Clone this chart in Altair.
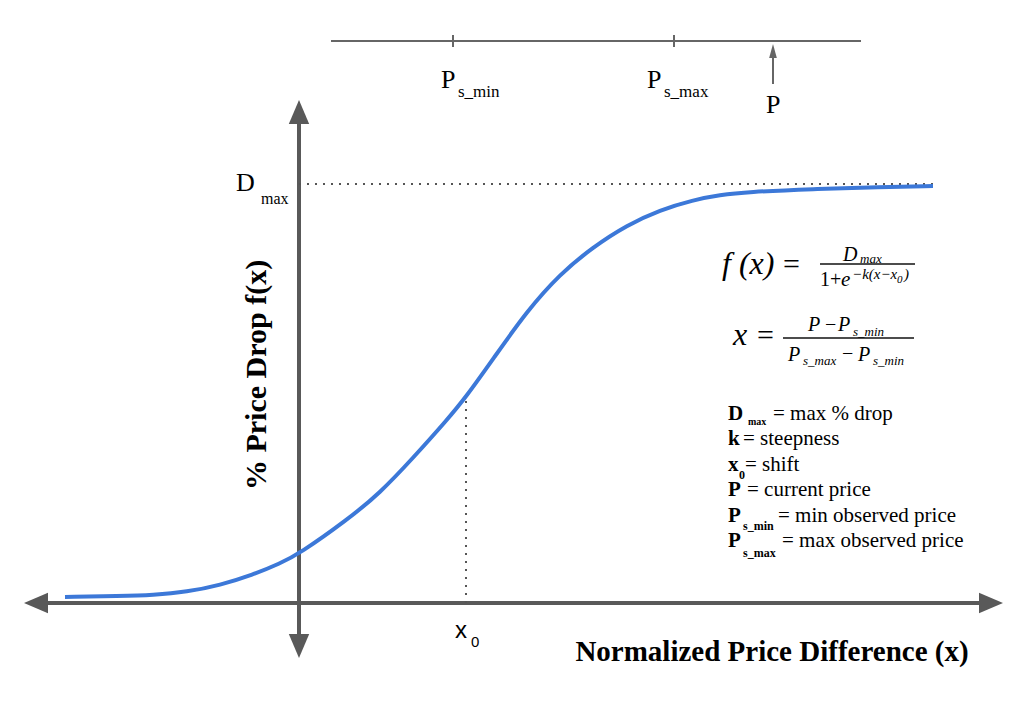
import altair as alt
import pandas as pd

# ---------------- data (x: normalized price difference, vertical axis at 0, x0 = 1;
#                         y: % price drop, Dmax = 100) ----------------
curve_x = [-1.4012, -1.0719, -0.8743, -0.6707, -0.4731, -0.2754, -0.1138, 0.0, 0.2874, 0.4850,
           0.6826, 0.8862, 1.0, 1.1617, 1.3653, 1.5629, 1.7605, 1.9641, 2.1617, 2.3593,
           2.5210, 2.6826, 3.0778, 3.4790, 3.7964]
curve_y = [1.43, 1.67, 1.91, 2.63, 4.25, 6.73, 9.43, 11.7, 19.81, 26.25,
           34.61, 43.68, 49.16, 58.23, 69.69, 78.52, 84.96, 90.21, 93.79, 96.18,
           97.37, 98.09, 98.81, 99.28, 99.52]

D_MAX = 100
X0 = 1.0
X_AXIS_RANGE = [-1.5749, 4.1437]
Y_AXIS_RANGE = [-10.26, 117.18]

# top price scale
price_line_x = [0.1916, 3.3653]
price_line_y = 134.13
price_ticks_x = [0.9222, 2.2455]
price_tick_y = [132.70, 135.56]
price_now_x = 2.8383
price_arrow_y = [123.87, 131.5]
price_arrow_head_y = 131.74

X_DOM = [-1.7904, 4.3413]
Y_DOM = [-24.105, 143.914]

AXIS_GRAY = "#595959"
BLUE = "#3c78d8"
SERIF = "Liberation Serif, Times New Roman, Times, serif"
SANS = "Liberation Sans, Arial, sans-serif"


def xs(field):
    return alt.X(field, type="quantitative",
                 scale=alt.Scale(domain=X_DOM, nice=False, zero=False), axis=None)


def ys(field):
    return alt.Y(field, type="quantitative",
                 scale=alt.Scale(domain=Y_DOM, nice=False, zero=False), axis=None)


layers = []

# axes lines
axes_df = pd.DataFrame({
    "x": [X_AXIS_RANGE[0], 0.0],
    "x2": [X_AXIS_RANGE[1], 0.0],
    "y": [0.0, Y_AXIS_RANGE[0]],
    "y2": [0.0, Y_AXIS_RANGE[1]],
})
layers.append(alt.Chart(axes_df).mark_rule(color=AXIS_GRAY, strokeWidth=4).encode(
    x=xs("x"), x2="x2", y=ys("y"), y2="y2"))

# arrow heads of main axes
tri_up = "M0,-1L0.85,1L-0.85,1Z"
tri_down = "M0,1L0.85,-1L-0.85,-1Z"
tri_left = "M-1,0L1,-0.85L1,0.85Z"
tri_right = "M1,0L-1,-0.85L-1,0.85Z"
for shape, hx, hy in [(tri_up, 0.0, Y_AXIS_RANGE[1]), (tri_down, 0.0, Y_AXIS_RANGE[0]),
                      (tri_left, X_AXIS_RANGE[0], 0.0), (tri_right, X_AXIS_RANGE[1], 0.0)]:
    layers.append(alt.Chart(pd.DataFrame({"x": [hx], "y": [hy]})).mark_point(
        shape=shape, filled=True, size=576, color=AXIS_GRAY, opacity=1, strokeWidth=0
    ).encode(x=xs("x"), y=ys("y")))

# dotted guides
dots_df = pd.DataFrame({
    "x": [0.0, X0], "x2": [curve_x[-1], X0],
    "y": [D_MAX, 0.0], "y2": [D_MAX, curve_y[curve_x.index(X0)]],
})
layers.append(alt.Chart(dots_df).mark_rule(
    color="#555555", strokeWidth=2, strokeDash=[2, 6]).encode(
    x=xs("x"), x2="x2", y=ys("y"), y2="y2"))

# curve
curve_df = pd.DataFrame({"x": curve_x, "y": curve_y})
layers.append(alt.Chart(curve_df).mark_line(
    color=BLUE, strokeWidth=4, interpolate="basis").encode(x=xs("x"), y=ys("y")))

# top price line
top_df = pd.DataFrame({
    "x": [price_line_x[0]] + price_ticks_x + [price_now_x],
    "x2": [price_line_x[1]] + price_ticks_x + [price_now_x],
    "y": [price_line_y, price_tick_y[0], price_tick_y[0], price_arrow_y[0]],
    "y2": [price_line_y, price_tick_y[1], price_tick_y[1], price_arrow_y[1]],
})
layers.append(alt.Chart(top_df).mark_rule(color="#666666", strokeWidth=2).encode(
    x=xs("x"), x2="x2", y=ys("y"), y2="y2"))
layers.append(alt.Chart(pd.DataFrame({"x": [price_now_x], "y": [price_arrow_head_y]})).mark_point(
    shape="M0,-1L0.55,1L-0.55,1Z", filled=True, size=196, color="#666666", opacity=1, strokeWidth=0
).encode(x=xs("x"), y=ys("y")))

# fraction bars
frac_df = pd.DataFrame({"x": [3.1198, 2.8982], "x2": [3.6886, 3.6826], "y": [80.91, 63.25]})
layers.append(alt.Chart(frac_df).mark_rule(color="#111111", strokeWidth=1.5).encode(
    x=xs("x"), x2="x2", y=ys("y")))

# ---------------- text ----------------
serif_regular = [
    ("D", -0.3772, 98.33, 26), ("max", -0.2275, 95.23, 16),
    ("P", 0.8503, 122.91, 26), ("s_min", 0.9521, 120.76, 17),
    ("P", 2.0838, 122.91, 26), ("s_max", 2.1856, 120.76, 17),
    ("P", 2.7964, 116.95, 26),
    ("= max % drop", 2.8383, 43.68, 21),
    ("= steepness", 2.6587, 37.59, 21),
    ("= shift", 2.6707, 31.50, 21),
    ("= current price", 2.6826, 25.42, 21),
    ("= min observed price", 2.8683, 19.33, 21),
    ("= max observed price", 2.8922, 13.25, 21),
    ("=", 2.8982, 78.52, 30), ("1+", 3.1198, 75.66, 20),
    ("=", 2.7425, 61.58, 30),
    ("−", 3.1497, 64.92, 20), ("−", 3.2515, 58.0, 20),
]
serif_italic = [
    ("f (x)", 2.5329, 78.52, 32),
    ("D", 3.2575, 81.62, 20), ("max", 3.3593, 81.15, 13),
    ("e", 3.2455, 75.66, 21),
    ("−k(x−x", 3.3114, 77.33, 15), ("0", 3.5808, 76.37, 11), (")", 3.6228, 77.33, 15),
    ("x", 2.5988, 61.58, 32),
    ("P", 3.0479, 64.92, 20), ("P", 3.2275, 64.92, 20), ("s_min", 3.3174, 63.72, 13),
    ("P", 2.9281, 57.76, 20), ("s_max", 3.0180, 56.80, 13),
    ("P", 3.3473, 57.76, 20), ("s_min", 3.4371, 56.80, 13),
]
serif_bold = [
    ("D", 2.5689, 43.68, 21), ("max", 2.6886, 42.4, 10),
    ("k", 2.5689, 37.59, 21),
    ("x", 2.5689, 31.50, 21), ("0", 2.6347, 29.59, 12),
    ("P", 2.5689, 25.42, 21),
    ("P", 2.5689, 19.33, 21), ("s_min", 2.6587, 17.42, 12),
    ("P", 2.5689, 13.25, 21), ("s_max", 2.6587, 10.98, 12),
]
sans_regular = [("x", 0.9341, -8.35, 24), ("0", 1.0299, -10.50, 15)]


def text_layer(rows, **kw):
    df = pd.DataFrame(rows, columns=["t", "x", "y", "s"])
    return alt.Chart(df).mark_text(align="left", baseline="alphabetic", color="#000000", **kw).encode(
        x=xs("x"), y=ys("y"), text="t:N", size=alt.Size("s:Q", scale=None, legend=None))


layers.append(text_layer(serif_regular, font=SERIF, fontWeight="normal", fontStyle="normal"))
layers.append(text_layer(serif_italic, font=SERIF, fontStyle="italic", fontWeight="normal"))
layers.append(text_layer(serif_bold, font=SERIF, fontWeight="bold", fontStyle="normal"))
layers.append(text_layer(sans_regular, font=SANS, fontWeight="normal", fontStyle="normal"))

# axis titles
layers.append(alt.Chart(pd.DataFrame({"t": ["Normalized Price Difference (x)"], "x": [2.8323], "y": [-13.84]}))
              .mark_text(align="center", baseline="alphabetic", font=SERIF, fontWeight="bold",
                         fontSize=29, color="#000000")
              .encode(x=xs("x"), y=ys("y"), text="t:N"))
layers.append(alt.Chart(pd.DataFrame({"t": ["% Price Drop f(x)"], "x": [-0.2515], "y": [54.42]}))
              .mark_text(align="center", baseline="middle", angle=270, font=SERIF, fontWeight="bold",
                         fontSize=30, color="#000000")
              .encode(x=xs("x"), y=ys("y"), text="t:N"))

chart = alt.layer(*layers).properties(
    width=1024, height=704, padding=0,
    autosize=alt.AutoSizeParams(type="none"),
    background="white",
).configure_view(stroke=None)

chart.save("out.html", embed_options={"renderer": "svg", "actions": False})
